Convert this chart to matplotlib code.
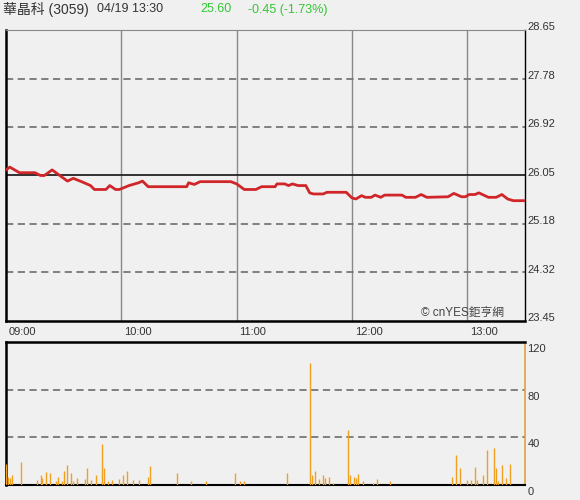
import matplotlib
matplotlib.use("Agg")
import matplotlib.pyplot as plt

plt.rcParams['font.family'] = ['Liberation Sans', 'Noto Sans CJK TC', 'DejaVu Sans']

BG = '#f0f0f0'
RED = '#d0262a'
GREEN = '#33c633'
ORANGE = '#f0a020'

# stock header
stock_name = '華晶科 (3059)'
stamp = '04/19 13:30'
last_price = '25.60'
change_text = '-0.45 (-1.73%)'
prev_close = 26.05

# price line (minute after 09:00, price)
price_min = [0, 2, 7, 15, 18, 20, 24, 28, 32, 35, 40, 44, 46, 52, 54, 57, 59,
             64, 69, 71, 74, 94, 95, 98, 101, 117, 120, 124, 130, 133, 140,
             141, 145, 147, 149, 152, 156, 158, 160, 165, 167, 177, 180, 182,
             185, 187, 190, 192, 195, 197, 206, 208, 213, 216, 219, 230, 233,
             237, 239, 241, 244, 246, 251, 255, 258, 261, 264, 270]
price_val = [26.15, 26.20, 26.10, 26.10, 26.05, 26.05, 26.15, 26.05, 25.95,
             26.00, 25.93, 25.87, 25.80, 25.80, 25.87, 25.80, 25.80, 25.87,
             25.92, 25.95, 25.85, 25.85, 25.92, 25.89, 25.94, 25.94, 25.90,
             25.80, 25.80, 25.85, 25.85, 25.90, 25.90, 25.87, 25.90, 25.87,
             25.87, 25.74, 25.72, 25.72, 25.75, 25.75, 25.65, 25.63, 25.69,
             25.66, 25.66, 25.70, 25.66, 25.70, 25.70, 25.66, 25.66, 25.71,
             25.66, 25.67, 25.73, 25.67, 25.67, 25.71, 25.71, 25.74, 25.66,
             25.66, 25.71, 25.63, 25.60, 25.60]

# volume bars (minute after 09:00, lots)
vol_min = [0, 1, 2, 3, 8, 16, 18, 19, 21, 23, 26, 27, 29, 30, 32, 34, 35,
           37, 41, 42, 44, 47, 50, 51, 53, 55, 59, 61, 63, 66, 69, 74, 75,
           89, 96, 104, 119, 122, 124, 146, 158, 159, 161, 163, 165, 166,
           168, 170, 178, 179, 181, 182, 183, 186, 191, 193, 200, 232, 234,
           236, 240, 242, 244, 245, 248, 250, 254, 255, 256, 258, 260, 262]
vol_val = [18, 7, 6, 8, 19, 4, 8, 6, 11, 10, 3, 7, 3, 12, 17, 10, 3, 6, 5,
           14, 4, 8, 34, 14, 3, 4, 5, 8, 12, 4, 4, 7, 16, 10, 3, 3, 10, 3, 3,
           10, 102, 8, 12, 5, 8, 6, 7, 2, 46, 8, 7, 6, 9, 3, 2, 5, 3, 7, 25,
           14, 4, 4, 15, 4, 8, 29, 31, 14, 3, 17, 6, 18]

price_ticks = [23.45, 24.32, 25.18, 26.05, 26.92, 27.78, 28.65]
vol_ticks = [0, 40, 80, 120]
hour_labels = ['09:00', '10:00', '11:00', '12:00', '13:00']

fig = plt.figure(figsize=(5.8, 5.0), dpi=100, facecolor=BG)
ax = fig.add_axes([0.0103, 0.358, 0.8948, 0.582], facecolor=BG)
axv = fig.add_axes([0.0103, 0.03, 0.8948, 0.286], facecolor=BG)

# ---- price panel
ax.set_xlim(0, 270)
ax.set_ylim(price_ticks[0], price_ticks[-1])
for i, lab in enumerate(hour_labels):
    m = i * 60
    if m > 0:
        ax.axvline(m, color='#888888', lw=1.0, zorder=1)
    ax.text(m + 1.5, -0.02, lab, transform=ax.get_xaxis_transform(),
            ha='left', va='top', fontsize=8, color='#333333')
for t in price_ticks[1:-1]:
    if t == prev_close:
        ax.axhline(t, color='#222222', lw=1.3, zorder=1)
    else:
        ax.axhline(t, color='#777777', lw=1.3, ls=(0, (4, 2.5)), zorder=1)
for t in price_ticks:
    ax.text(1.005, t + 0.05, '%.2f' % t, transform=ax.get_yaxis_transform(),
            ha='left', va='center', fontsize=8, color='#333333')
ax.plot(price_min, price_val, color=RED, lw=2.0, zorder=3)
ax.text(0.80, 0.008, '© cnYES鉅亨網', transform=ax.transAxes, ha='left',
        va='bottom', fontsize=8.5, color='#444444')
ax.set_xticks([])
ax.set_yticks([])
ax.spines['left'].set_linewidth(1.8)
ax.spines['bottom'].set_linewidth(1.8)
ax.spines['top'].set_color('#888888')
ax.spines['right'].set_linewidth(1.0)

# ---- volume panel
axv.set_xlim(0, 270)
axv.set_ylim(0, 120)
for t in vol_ticks[1:-1]:
    axv.axhline(t, color='#777777', lw=1.3, ls=(0, (4, 2.5)), zorder=1)
for t in vol_ticks:
    axv.text(1.005, t - 6, str(t), transform=axv.get_yaxis_transform(),
             ha='left', va='center', fontsize=8, color='#333333')
axv.vlines(vol_min, 0, vol_val, color=ORANGE, lw=1.0, zorder=3)
axv.set_xticks([])
axv.set_yticks([])
axv.spines['left'].set_linewidth(1.8)
axv.spines['top'].set_linewidth(1.8)
axv.spines['bottom'].set_linewidth(1.5)
axv.spines['right'].set_color('#e0a040')
axv.spines['right'].set_linewidth(1.2)

# ---- header
fig.text(0.005, 0.981, stock_name, ha='left', va='center', fontsize=10,
         color='#333333')
fig.text(0.167, 0.981, stamp, ha='left', va='center', fontsize=9,
         color='#333333')
fig.text(0.345, 0.981, last_price, ha='left', va='center', fontsize=9,
         color=GREEN)
fig.text(0.428, 0.981, change_text, ha='left', va='center', fontsize=9,
         color=GREEN)

fig.savefig('out.png', dpi=100, facecolor=BG)
